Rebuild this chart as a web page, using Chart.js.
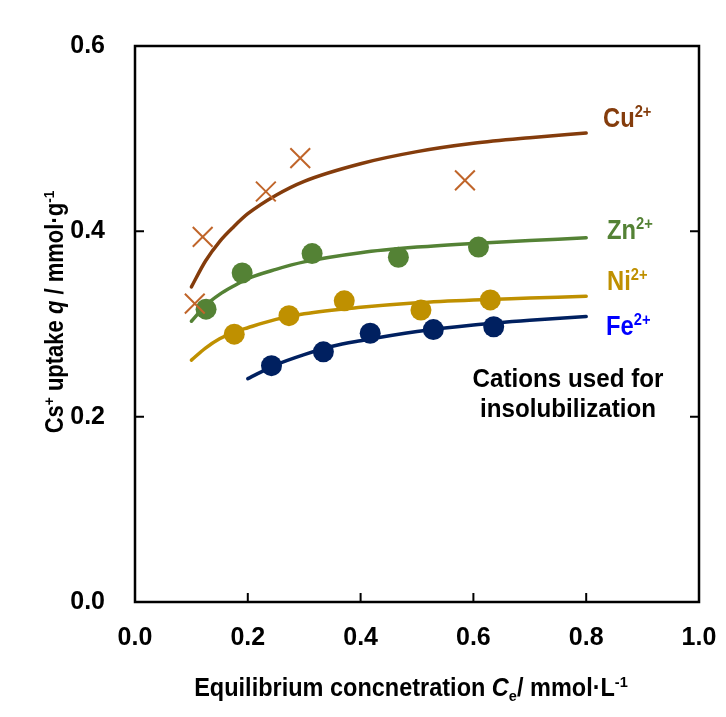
<!DOCTYPE html>
<html>
<head>
<meta charset="utf-8">
<script src="https://cdn.jsdelivr.net/npm/chart.js@4.4.1/dist/chart.umd.min.js"></script>
<style>
    html, body { margin: 0; padding: 0; background: #fff; }
    #wrap { width: 726px; height: 717px; }
</style>
</head>
<body>
<div id="wrap"><canvas id="chart" width="726" height="717"></canvas></div>
<script>
// measured points
const cuX = [0.106, 0.120, 0.232, 0.293, 0.585];
const cuQ = [0.322, 0.394, 0.443, 0.479, 0.455];
const znX = [0.126, 0.190, 0.314, 0.467, 0.609];
const znQ = [0.316, 0.355, 0.376, 0.372, 0.383];
const niX = [0.176, 0.273, 0.371, 0.507, 0.630];
const niQ = [0.289, 0.309, 0.325, 0.315, 0.326];
const feX = [0.242, 0.334, 0.417, 0.529, 0.636];
const feQ = [0.255, 0.270, 0.290, 0.294, 0.297];

// fitted curves
const curveX = [0.10, 0.125, 0.15, 0.175, 0.20, 0.25, 0.30, 0.40, 0.50, 0.60, 0.70, 0.80];
const cuCurve = [0.340, 0.368, 0.389, 0.405, 0.419, 0.439, 0.454, 0.473, 0.486, 0.495, 0.501, 0.506];
const znCurve = [0.303, 0.320, 0.332, 0.341, 0.349, 0.359, 0.367, 0.377, 0.383, 0.387, 0.390, 0.393];
const niCurve = [0.261, 0.274, 0.284, 0.291, 0.296, 0.305, 0.311, 0.318, 0.323, 0.326, 0.328, 0.330];
const feCurveX = [0.20, 0.25, 0.30, 0.35, 0.40, 0.50, 0.60, 0.70, 0.80];
const feCurve = [0.241, 0.256, 0.267, 0.276, 0.282, 0.292, 0.299, 0.304, 0.308];

const xTicks = [0.0, 0.2, 0.4, 0.6, 0.8, 1.0];
const yTicks = [0.0, 0.2, 0.4, 0.6];

const FONT = "'Liberation Sans', Arial, sans-serif";

function pts(xs, ys) {
    return xs.map((x, i) => ({ x: x, y: ys[i] }));
}

function curve(label, xs, ys, color) {
    return {
        type: 'line',
        label: label,
        data: pts(xs, ys),
        borderColor: color,
        borderWidth: 3.5,
        pointRadius: 0,
        fill: false,
        cubicInterpolationMode: 'monotone',
        borderCapStyle: 'round'
    };
}

function marks(label, xs, ys, color, style) {
    const cross = style === 'crossRot';
    return {
        type: 'scatter',
        label: label,
        data: pts(xs, ys),
        pointStyle: style,
        pointRadius: cross ? 14 : 10.5,
        pointBackgroundColor: color,
        pointBorderColor: color,
        pointBorderWidth: cross ? 2 : 0
    };
}

// draw text made of pieces, some raised or lowered; sx squeezes it sideways
function richText(ctx, parts, x, y, size, align, sx) {
    sx = sx || 0.92;
    const widths = parts.map(p => {
        ctx.font = (p.i ? 'italic ' : '') + 'bold ' + (p.s ? size * 0.62 : size) + 'px ' + FONT;
        return ctx.measureText(p.t).width * sx;
    });
    const total = widths.reduce((a, b) => a + b, 0);
    let cx = align === 'center' ? x - total / 2 : x;
    parts.forEach((p, i) => {
        ctx.font = (p.i ? 'italic ' : '') + 'bold ' + (p.s ? size * 0.62 : size) + 'px ' + FONT;
        let dy = 0;
        if (p.s === 'sup') dy = -size * 0.38;
        if (p.s === 'sub') dy = size * 0.2;
        ctx.save();
        ctx.translate(cx, y + dy);
        ctx.scale(sx, 1);
        ctx.fillText(p.t, 0, 0);
        ctx.restore();
        cx += widths[i];
    });
}

const framePlugin = {
    id: 'frame',
    afterDraw(chart) {
        const ctx = chart.ctx;
        const a = chart.chartArea;
        const xs = chart.scales.x, ys = chart.scales.y;
        ctx.save();
        ctx.strokeStyle = '#000';
        ctx.lineWidth = 2.5;
        ctx.strokeRect(a.left, a.top, a.right - a.left, a.bottom - a.top);
        ctx.lineWidth = 2;
        const tl = 9;
        ctx.beginPath();
        xTicks.slice(1, -1).forEach(v => {
            const px = xs.getPixelForValue(v);
            ctx.moveTo(px, a.bottom); ctx.lineTo(px, a.bottom - tl);
        });
        yTicks.slice(1, -1).forEach(v => {
            const py = ys.getPixelForValue(v);
            ctx.moveTo(a.left, py); ctx.lineTo(a.left + tl, py);
            ctx.moveTo(a.right, py); ctx.lineTo(a.right - tl, py);
        });
        ctx.stroke();

        ctx.textBaseline = 'alphabetic';
        ctx.textAlign = 'left';
        // series labels
        ctx.fillStyle = '#843C0C';
        richText(ctx, [{ t: 'Cu' }, { t: '2+', s: 'sup' }], 603, 127, 27, 'left', 0.88);
        ctx.fillStyle = '#548235';
        richText(ctx, [{ t: 'Zn' }, { t: '2+', s: 'sup' }], 607, 239, 27, 'left', 0.88);
        ctx.fillStyle = '#BF9000';
        richText(ctx, [{ t: 'Ni' }, { t: '2+', s: 'sup' }], 607, 290, 27, 'left', 0.88);
        ctx.fillStyle = '#0000FF';
        richText(ctx, [{ t: 'Fe' }, { t: '2+', s: 'sup' }], 606, 335, 27, 'left', 0.88);

        ctx.fillStyle = '#000';
        richText(ctx, [{ t: 'Cations used for' }], 568, 387, 26, 'center', 0.93);
        richText(ctx, [{ t: 'insolubilization' }], 568, 417, 26, 'center', 0.93);

        // axis titles
        richText(ctx, [{ t: 'Equilibrium concnetration ' }, { t: 'C', i: true }, { t: 'e', s: 'sub' },
            { t: '/ mmol·L' }, { t: '-1', s: 'sup' }], 411, 696, 25, 'center', 0.94);

        ctx.translate(63, 312);
        ctx.rotate(-Math.PI / 2);
        richText(ctx, [{ t: 'Cs' }, { t: '+', s: 'sup' }, { t: ' uptake ' }, { t: 'q', i: true },
            { t: ' / mmol·g' }, { t: '-1', s: 'sup' }], 0, 0, 25, 'center', 0.88);
        ctx.restore();
    }
};

new Chart(document.getElementById('chart'), {
    data: {
        datasets: [
            marks('Cu points', cuX, cuQ, '#C0652A', 'crossRot'),
            marks('Zn points', znX, znQ, '#548235', 'circle'),
            marks('Ni points', niX, niQ, '#BF9000', 'circle'),
            marks('Fe points', feX, feQ, '#002060', 'circle'),
            curve('Cu', curveX, cuCurve, '#843C0C'),
            curve('Zn', curveX, znCurve, '#548235'),
            curve('Ni', curveX, niCurve, '#BF9000'),
            curve('Fe', feCurveX, feCurve, '#002060')
        ]
    },
    options: {
        responsive: false,
        animation: false,
        layout: { padding: { left: 0, right: 27, top: 46, bottom: 0 } },
        plugins: { legend: { display: false }, tooltip: { enabled: false } },
        scales: {
            x: {
                type: 'linear',
                min: 0, max: 1.0,
                afterBuildTicks: s => { s.ticks = xTicks.map(v => ({ value: v })); },
                afterFit: s => { s.height = 115; s.paddingLeft = 0; s.paddingRight = 0; },
                grid: { display: false, drawTicks: false },
                border: { display: false },
                ticks: {
                    padding: 21,
                    color: '#000',
                    font: { family: FONT, size: 25, weight: 'bold' },
                    callback: v => v.toFixed(1)
                }
            },
            y: {
                type: 'linear',
                min: 0, max: 0.6,
                afterBuildTicks: s => { s.ticks = yTicks.map(v => ({ value: v })); },
                afterFit: s => { s.width = 135; s.paddingTop = 0; s.paddingBottom = 0; },
                grid: { display: false, drawTicks: false },
                border: { display: false },
                ticks: {
                    padding: 30,
                    color: '#000',
                    font: { family: FONT, size: 25, weight: 'bold' },
                    callback: v => v.toFixed(1)
                }
            }
        }
    },
    plugins: [framePlugin]
});
</script>
</body>
</html>
